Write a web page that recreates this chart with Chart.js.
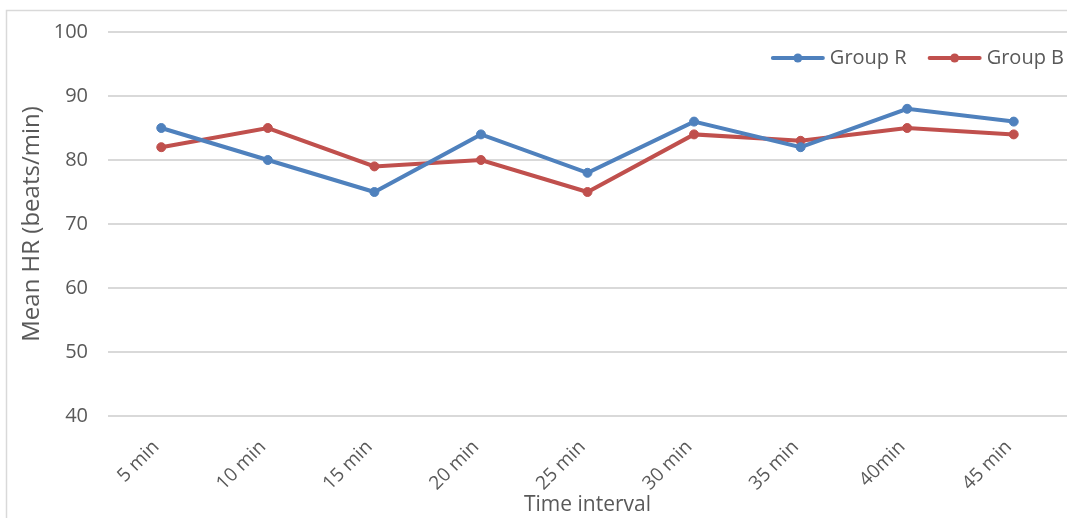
<!DOCTYPE html>
<html>
<head>
<meta charset="utf-8">
<script src="https://cdn.jsdelivr.net/npm/chart.js@4.4.0/dist/chart.umd.min.js"></script>
<style>
  html, body { margin: 0; padding: 0; background: #fff; overflow: hidden; }
  #wrap { position: relative; width: 1067px; height: 518px; }
</style>
</head>
<body>
<div id="wrap"><canvas id="chart" width="1067" height="518"></canvas></div>
<script>
// Time points and mean heart rate per group
const timeLabels = ['5 min', '10 min', '15 min', '20 min', '25 min', '30 min', '35 min', '40min', '45 min'];
const groupR = [85, 80, 75, 84, 78, 86, 82, 88, 86];
const groupB = [82, 85, 79, 80, 75, 84, 83, 85, 84];
const yTicks = [40, 50, 60, 70, 80, 90, 100];

const textColor = '#595959';
const fontFamily = '"Open Sans", "DejaVu Sans", sans-serif';

// Light frame around the whole chart
const frame = {
  id: 'frame',
  beforeDraw(chart) {
    const ctx = chart.ctx;
    ctx.save();
    ctx.strokeStyle = '#d9d9d9';
    ctx.lineWidth = 1.5;
    ctx.strokeRect(6.5, 10.5, chart.width + 10, chart.height + 10);
    ctx.restore();
  }
};

// Legend in the top-right corner of the plot: line-with-dot swatch, then the name
const insetLegend = {
  id: 'insetLegend',
  afterDraw(chart) {
    const ctx = chart.ctx;
    const area = chart.chartArea;
    const swatch = 54, gap = 5, between = 21;
    ctx.save();
    ctx.font = '20px ' + fontFamily;
    ctx.textBaseline = 'middle';
    const items = chart.data.datasets.map(ds => ({
      text: ds.label, color: ds.borderColor, w: ctx.measureText(ds.label).width
    }));
    const total = items.reduce((s, it) => s + swatch + gap + it.w, 0) + between * (items.length - 1);
    let x = area.right - 3 - total;
    const y = area.top + 26;
    items.forEach(it => {
      ctx.strokeStyle = it.color;
      ctx.lineWidth = 4;
      ctx.lineCap = 'round';
      ctx.beginPath(); ctx.moveTo(x + 2, y); ctx.lineTo(x + swatch - 2, y); ctx.stroke();
      ctx.fillStyle = it.color;
      ctx.beginPath(); ctx.arc(x + swatch / 2, y, 4.5, 0, Math.PI * 2); ctx.fill();
      x += swatch + gap;
      ctx.fillStyle = textColor;
      ctx.fillText(it.text, x, y);
      x += it.w + between;
    });
    ctx.restore();
  }
};

new Chart(document.getElementById('chart'), {
  type: 'line',
  data: {
    labels: timeLabels,
    datasets: [
      {
        label: 'Group R',
        data: groupR,
        borderColor: '#4f81bd',
        backgroundColor: '#4f81bd',
        borderWidth: 4,
        pointRadius: 4.5,
        pointBorderWidth: 1,
        pointHoverRadius: 4.5,
        tension: 0
      },
      {
        label: 'Group B',
        data: groupB,
        borderColor: '#c0504d',
        backgroundColor: '#c0504d',
        borderWidth: 4,
        pointRadius: 4.5,
        pointBorderWidth: 1,
        pointHoverRadius: 4.5,
        tension: 0
      }
    ]
  },
  options: {
    responsive: false,
    animation: false,
    layout: { autoPadding: false, padding: { left: 18, right: 0, top: 31, bottom: 0 } },
    plugins: {
      tooltip: { enabled: false },
      legend: { display: false }
    },
    scales: {
      x: {
        offset: true,
        grid: { display: false, drawTicks: false },
        border: { display: false },
        ticks: {
          color: textColor,
          font: { family: fontFamily, size: 19 },
          minRotation: 45,
          maxRotation: 45,
          padding: 20,
          labelOffset: -5
        },
        title: {
          display: true,
          text: 'Time interval',
          color: textColor,
          font: { family: fontFamily, size: 21 },
          padding: { top: 0, bottom: 0 }
        },
        afterFit(scale) { scale.height = 102; }
      },
      y: {
        min: 40,
        max: 100,
        afterBuildTicks(scale) { scale.ticks = yTicks.map(v => ({ value: v })); },
        grid: { color: '#d9d9d9', lineWidth: 2, drawTicks: false },
        border: { display: false },
        ticks: {
          color: textColor,
          font: { family: fontFamily, size: 20 },
          padding: 20
        },
        title: {
          display: true,
          text: 'Mean HR (beats/min)',
          color: textColor,
          font: { family: fontFamily, size: 24 },
          padding: { top: 0, bottom: 0 }
        },
        afterFit(scale) { scale.width = 90; }
      }
    }
  },
  plugins: [frame, insetLegend]
});
</script>
</body>
</html>
